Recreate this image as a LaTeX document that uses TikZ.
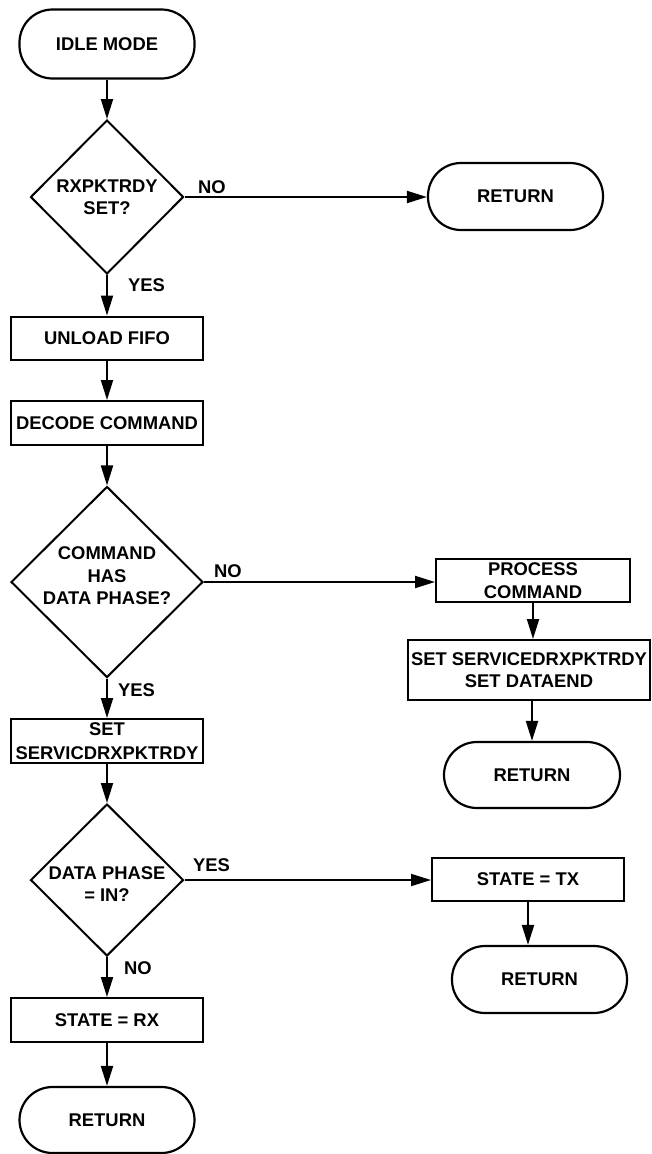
\documentclass[tikz,border=0pt]{standalone}
\usepackage{fontspec}
\setmainfont{Liberation Sans}
\usetikzlibrary{shapes.geometric,arrows.meta}
\begin{document}
\begin{tikzpicture}[x=1pt,y=-1pt,
  every node/.style={font=\fontsize{18.4}{22.5}\selectfont\bfseries, inner sep=0pt, align=center},
  term/.style={draw, line width=2.2pt, rounded corners=33pt, minimum width=175pt, minimum height=67pt},
  proc/.style={draw, line width=2pt, minimum width=192pt, minimum height=44pt},
  dia/.style={draw, diamond, line width=2pt},
  lab/.style={anchor=west},
  flow/.style={line width=2pt, -{Triangle[length=20pt,width=12pt]}}
]
\useasboundingbox (0,0) rectangle (652,1154);
% left column
\node[term, minimum height=69pt] (idle) at (107,44) {IDLE MODE};
\node[dia, minimum width=153pt, minimum height=154pt] (d1) at (107,197) {};
\node (d1t) at (107,197.5) {RXPKTRDY\\SET?};
\node[proc, minimum height=43pt] (unload) at (107,338) {UNLOAD FIFO};
\node[proc] (decode) at (107,423) {DECODE COMMAND};
\node[dia, minimum width=192pt, minimum height=191pt] (d2) at (107,582) {};
\node (d2t) at (107,576) {COMMAND\\HAS\\DATA PHASE?};
\node[proc] (svc) at (107,741) {SET\\[1.5pt]SERVICDRXPKTRDY};
\node[dia, minimum width=153pt, minimum height=152pt] (d3) at (107,880) {};
\node (d3t) at (107,884) {DATA PHASE\\= IN?};
\node[proc] (rx) at (107,1020) {STATE = RX};
\node[term, minimum height=66pt] (r4) at (107,1120) {RETURN};
% right column
\node[term] (r1) at (515.5,196.5) {RETURN};
\node[proc, minimum width=194pt, minimum height=43pt] (pc) at (533,580.5) {PROCESS\\COMMAND};
\node[proc, minimum width=242pt, minimum height=60pt] (sd) at (529,670) {SET SERVICEDRXPKTRDY\\SET DATAEND};
\node[term, minimum width=176pt, minimum height=66pt] (r2) at (532,775) {RETURN};
\node[proc, minimum height=43pt] (tx) at (528,879.5) {STATE = TX};
\node[term] (r3) at (539.5,979.5) {RETURN};
% connectors
\draw[flow] (idle) -- (d1);
\draw[flow] (d1.east) -- (d1.east -| r1.west);
\draw[flow] (d1) -- (unload);
\draw[flow] (unload) -- (decode);
\draw[flow] (decode) -- (d2);
\draw[flow] (d2.east) -- (d2.east -| pc.west);
\draw[flow] (pc.south) -- (pc.south |- sd.north);
\draw[flow] (r2.north |- sd.south) -- (r2.north);
\draw[flow] (d2) -- (svc);
\draw[flow] (svc) -- (d3);
\draw[flow] (d3.east) -- (d3.east -| tx.west);
\draw[flow] (d3) -- (rx);
\draw[flow] (rx) -- (r4);
\draw[flow] (tx.south) -- (tx.south |- r3.north);
% labels
\node[lab] (no1) at (198,187) {NO};
\node[lab] (yes1) at (128,285) {YES};
\node[lab] (no2) at (214,571) {NO};
\node[lab] (yes2) at (118,690) {YES};
\node[lab] (yes3) at (193,865) {YES};
\node[lab] (no3) at (124,968) {NO};
\end{tikzpicture}
\end{document}
